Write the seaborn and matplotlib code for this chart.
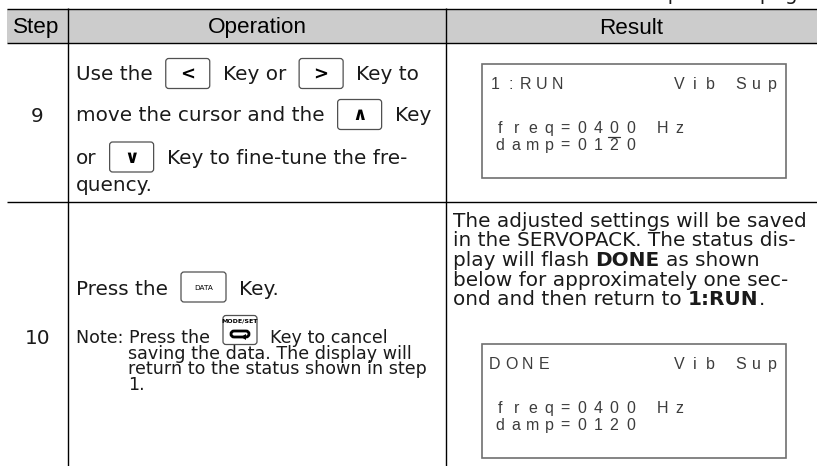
import matplotlib
matplotlib.use("Agg")
import matplotlib.pyplot as plt
import seaborn as sns
from matplotlib.patches import Rectangle, FancyBboxPatch, Polygon

# ---------------- data (texts of the table) ----------------
header_labels = ["Step", "Operation", "Result"]
step_labels = ["9", "10"]
continued_label = "Continued from previous page."

op9_line1 = [("t", "Use the"), ("k", "<"), ("t", "Key or"), ("k", ">"), ("t", "Key to")]
op9_line2 = [("t", "move the cursor and the"), ("k", "\u2227"), ("t", "Key")]
op9_line3 = [("t", "or"), ("k", "\u2228"), ("t", "Key to fine-tune the fre-")]
op9_line4 = [("t", "quency.")]

op10_line1 = [("t", "Press the"), ("data", "DATA"), ("t", "Key.")]
note_line1 = [("t", "Note: Press the"), ("mode", "MODE/SET"), ("t", "Key to cancel")]
note_rest = ["saving the data. The display will",
             "return to the status shown in step",
             "1."]

res10_line1 = [("t", "The adjusted settings will be saved")]
res10_line2 = [("t", "in the SERVOPACK. The status dis-")]
res10_line3 = [("t", "play will flash"), ("b", "DONE"), ("t", "as shown")]
res10_line4 = [("t", "below for approximately one sec-")]
res10_line5 = [("t", "ond and then return to"), ("b", "1:RUN"), ("n", ".")]

lcd_right_title = "Vib Sup"
lcd1_rows = ["1:RUN", "freq=0400 Hz", "damp=0120"]
lcd2_rows = ["DONE", "freq=0400 Hz", "damp=0120"]
lcd1_cursor = 7

# ---------------- figure ----------------
sns.set_theme(style="white")
plt.rcParams["font.family"] = ["DejaVu Sans"]

W, H = 817, 466
fig = plt.figure(figsize=(W / 100, H / 100), dpi=100)
ax = fig.add_axes([0, 0, 1, 1])
ax.set_xlim(0, W)
ax.set_ylim(H, 0)
ax.axis("off")
fig.canvas.draw()
renderer = fig.canvas.get_renderer()

TXT = "#1a1a1a"
BODY = 14.4
NOTE = 12.6
KEY_GAP = 13

# header band
ax.add_patch(Rectangle((7, 9), W - 7, 34, facecolor="#cccccc", edgecolor="none", zorder=0))
LW = 1.0
for y in (9, 43, 202):
    ax.plot([7, W], [y, y], color="black", lw=LW, solid_capstyle="butt", zorder=3)
for x in (68, 446):
    ax.plot([x, x], [8, H], color="black", lw=LW, solid_capstyle="butt", zorder=3)

# cropped caption on top
ax.text(816.5, -0.5, continued_label, fontsize=14.4, ha="right", va="baseline",
        color=TXT, clip_on=False)

# header labels
head_fam = ["Liberation Sans"]
for cx, lab in zip((36, 257, 631.5), header_labels):
    ax.text(cx, 33.5, lab, fontsize=16.2, family=head_fam, ha="center",
            va="baseline", color="black")

# step numbers
for base, lab in zip((121.5, 343.5), step_labels):
    ax.text(37.5, base, lab, fontsize=14.4, ha="center", va="baseline", color=TXT)


def draw_key(x, yc, w, h, label, kind):
    ax.add_patch(FancyBboxPatch((x, yc - h / 2), w, h,
                                boxstyle="round,pad=0,rounding_size=3",
                                facecolor="white", edgecolor="#505050", lw=0.9, zorder=4))
    if kind == "k":
        ax.text(x + w / 2, yc + 1, label, fontsize=13, fontweight="bold",
                ha="center", va="center", color="black", zorder=5)
    elif kind == "data":
        ax.text(x + w / 2, yc + 0.5, label, fontsize=5.2, ha="center", va="center",
                color="black", zorder=5)
    else:
        ax.text(x + w / 2, yc - h / 2 + 5.5, label, fontsize=4.5, fontweight="bold",
                ha="center", va="center", color="black", zorder=5)
        ax.add_patch(FancyBboxPatch((x + w / 2 - 9, yc + 1), 18, 6,
                                    boxstyle="round,pad=0,rounding_size=3",
                                    facecolor="none", edgecolor="black", lw=2.0, zorder=5))
        ax.add_patch(Polygon([[x + w / 2 + 1, yc + 7], [x + w / 2 + 6, yc + 4],
                              [x + w / 2 + 6, yc + 10]], closed=True,
                             facecolor="black", edgecolor="none", zorder=6))


KEY_SIZE = {"k": (44, 30), "data": (45, 30), "mode": (34, 29)}


def put_line(x, base, segs, size, dy=6.5):
    fs_px = size * 100 / 72
    space = 0.318 * fs_px
    prev = None
    for kind, label in segs:
        if prev is not None:
            if kind in KEY_SIZE or prev in KEY_SIZE:
                x += KEY_GAP
            elif kind != "n":
                x += space
        if kind in ("t", "b", "n"):
            t = ax.text(x, base, label, fontsize=size,
                        fontweight="bold" if kind == "b" else "normal",
                        ha="left", va="baseline", color=TXT, zorder=5)
            x += t.get_window_extent(renderer).width
        else:
            w, h = KEY_SIZE[kind]
            draw_key(x, base - dy, w, h, label, kind)
            x += w
        prev = kind


# operation column, step 9
for base, segs in zip((80, 121, 163.5, 191), (op9_line1, op9_line2, op9_line3, op9_line4)):
    put_line(76, base, segs, BODY)

# operation column, step 10
put_line(76, 295, op10_line1, BODY, dy=8)
put_line(76, 343, note_line1, NOTE, dy=13)
for base, line in zip((359, 374.5, 390), note_rest):
    ax.text(128, base, line, fontsize=NOTE, ha="left", va="baseline", color=TXT)

# result column, step 10 text
for base, segs in zip((227, 246.5, 266, 285.5, 305),
                      (res10_line1, res10_line2, res10_line3, res10_line4, res10_line5)):
    put_line(453, base, segs, BODY)


# LCD panels
def lcd(top, rows, cursor=None):
    ax.add_patch(Rectangle((482, top), 304, 114, facecolor="white",
                           edgecolor="#707070", lw=1.2, zorder=4))
    kw = dict(fontsize=11.5, family=["Liberation Sans"], ha="center", va="baseline",
              color="#3c3c3c", zorder=5)
    first_pitch = 15.5 if rows[0][0].isdigit() else 16.3
    for i, ch in enumerate(rows[0]):
        ax.text(495 + i * first_pitch, top + 25, ch, **kw)
    for i, ch in enumerate(lcd_right_title):
        ax.text(679 + i * 15.5, top + 25, ch, **kw)
    for r, base in zip(rows[1:], (top + 69, top + 86)):
        for i, ch in enumerate(r):
            ax.text(500 + i * 16.3, base, ch, **kw)
    if cursor is not None:
        cx = 500 + cursor * 16.3
        ax.plot([cx - 6, cx + 6], [top + 72.5, top + 72.5], color="#333333", lw=0.9, zorder=5)


lcd(64, lcd1_rows, lcd1_cursor)
lcd(344, lcd2_rows)

fig.savefig("out.png", dpi=100)
